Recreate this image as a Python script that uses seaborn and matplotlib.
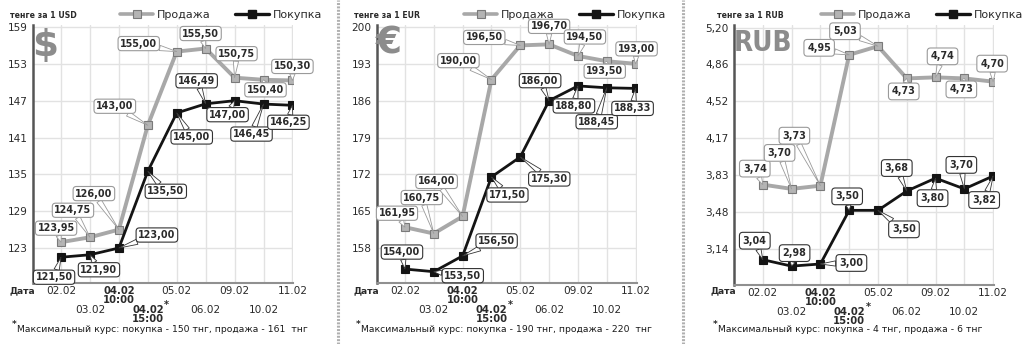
import numpy as np
import matplotlib
matplotlib.use("Agg")
import matplotlib.pyplot as plt
import seaborn as sns
from matplotlib.lines import Line2D

# ---------------- data ----------------
dates = ["02.02", "03.02", "04.02\n10:00", "04.02\n15:00", "05.02",
         "06.02", "09.02", "10.02", "11.02"]

usd_sale = [123.95, 124.75, 126.00, 143.00, 155.00, 155.50, 150.75, 150.40, 150.30]
usd_buy = [121.50, 121.90, 123.00, 135.50, 145.00, 146.49, 147.00, 146.45, 146.25]
eur_sale = [161.95, 160.75, 164.00, 190.00, 196.50, 196.70, 194.50, 193.50, 193.00]
eur_buy = [154.00, 153.50, 156.50, 171.50, 175.30, 186.00, 188.80, 188.45, 188.33]
rub_sale = [3.74, 3.70, 3.73, 4.95, 5.03, 4.73, 4.74, 4.73, 4.70]
rub_buy = [3.04, 2.98, 3.00, 3.50, 3.50, 3.68, 3.80, 3.70, 3.82]

usd_ticks = [123, 129, 135, 141, 147, 153, 159]
eur_ticks = [158, 165, 172, 179, 186, 193, 200]
rub_ticks = [3.14, 3.48, 3.83, 4.17, 4.52, 4.86, 5.20]
rub_ticklabels = ["3,14", "3,48", "3,83", "4,17", "4,52", "4,86", "5,20"]

currencies = ["USD", "EUR", "RUB"]
symbols = ["$", "€", "RUB"]
max_buy = [150, 190, 4]
max_sale = [161, 220, 6]
foot_gap = ["  ", "  ", " "]

legend_labels = ["Продажа", "Покупка"]
date_label = "Дата"

# ---------------- layout (pixel offsets of the value boxes) ----------------
usd_sale_off = [(-5, -14), (-17, -27), (-25, -36), (-33, -19), (-38, -8), (-5, -15), (2, -24), (2, 10), (0, -14)]
usd_buy_off = [(-7, 20), (9, 15), (38, -13), (18, 20), (15, 24), (-9, -23), (-7, 14), (-12, 30), (-4, 17)]
eur_sale_off = [(-8, -14), (-12, -36), (-26, -35), (-33, -19), (-36, -8), (0, -18), (7, -19), (-2, 10), (1, -15)]
eur_buy_off = [(-3, -17), (29, 4), (34, -15), (16, 18), (29, 22), (-9, -20), (-4, 20), (-10, 34), (-3, 20)]
rub_sale_off = [(-8, -16), (-12, -36), (-26, -50), (-30, -7), (-33, -15), (-3, 13), (7, -21), (-3, 11), (-1, -18)]
rub_buy_off = [(-8, -19), (3, -13), (31, -1), (-2, -14), (26, 19), (-10, -23), (-3, 20), (-3, -24), (-9, 24)]

W, H = 1024, 344
sns.set_style("white")
plt.rcParams["font.family"] = ["DejaVu Sans"]

fig = plt.figure(figsize=(W / 100, H / 100), dpi=100)
fig.patch.set_facecolor("white")

SALE_LINE = "#a8a8a8"
SALE_FACE = "#b4b4b4"
SALE_EDGE = "#7a7a7a"
BUY_LINE = "#141414"
TXT = "#2a2a2a"


def ftext(x, y, s, **kw):
    return fig.text(x / W, 1 - y / H, s, **kw)


def fmt(v):
    return f"{v:.2f}".replace(".", ",")


panels = [
    dict(rect=(33, 25, 293, 283), xlim=(-0.97, 8.02), ylim=(117.3, 159.33),
         ticks=usd_ticks, labels=[str(t) for t in usd_ticks],
         sale=usd_sale, buy=usd_buy, so=usd_sale_off, bo=usd_buy_off,
         sym_pos=(45, 46), sym_size=27, pad=0.22),
    dict(rect=(377, 25, 637, 283), xlim=(-0.97, 8.05), ylim=(151.35, 200.38),
         ticks=eur_ticks, labels=[str(t) for t in eur_ticks],
         sale=eur_sale, buy=eur_buy, so=eur_sale_off, bo=eur_buy_off,
         sym_pos=(389, 44), sym_size=27, pad=0.22),
    dict(rect=(734, 25, 994, 285), xlim=(-1.0, 8.03), ylim=(2.804, 5.228),
         ticks=rub_ticks, labels=rub_ticklabels,
         sale=rub_sale, buy=rub_buy, so=rub_sale_off, bo=rub_buy_off,
         sym_pos=(763, 43), sym_size=20, pad=0.35),
]

x = np.arange(len(dates))

for k, p in enumerate(panels):
    l, t, r, b = p["rect"]
    ax = fig.add_axes([l / W, 1 - b / H, (r - l) / W, (b - t) / H])
    ax.set_facecolor("white")

    sns.lineplot(x=x, y=p["sale"], ax=ax, color=SALE_LINE, lw=2.8, marker="s",
                 markersize=5.5, markerfacecolor=SALE_FACE, markeredgecolor=SALE_EDGE,
                 markeredgewidth=0.8, zorder=3)
    sns.lineplot(x=x, y=p["buy"], ax=ax, color=BUY_LINE, lw=2.0, marker="s",
                 markersize=5.5, markerfacecolor=BUY_LINE, markeredgecolor=BUY_LINE,
                 markeredgewidth=0.8, zorder=4)

    ax.set_xlim(*p["xlim"])
    ax.set_ylim(*p["ylim"])
    ax.set_xticks(x)
    ax.set_xticklabels([])
    ax.set_yticks(p["ticks"])
    ax.set_yticklabels(p["labels"], fontsize=7.6, color=TXT)
    ax.tick_params(axis="both", length=0, pad=4)
    ax.grid(True, color="#e2e2e2", lw=1.0, zorder=0)
    ax.set_axisbelow(True)
    for s in ["top", "right"]:
        ax.spines[s].set_visible(False)
    ax.spines["left"].set_color("#555555")
    ax.spines["left"].set_linewidth(1.8)
    ax.spines["bottom"].set_color("#909090")
    ax.spines["bottom"].set_linewidth(1.5)
    ax.set_xlabel("")
    ax.set_ylabel("")

    # value boxes
    for vals, offs, ec in [(p["sale"], p["so"], "#9a9a9a"), (p["buy"], p["bo"], "#333333")]:
        for i, (v, (dx, dy)) in enumerate(zip(vals, offs)):
            ax.annotate(fmt(v), xy=(i, v), xytext=(dx, -dy), textcoords="offset pixels",
                        ha="center", va="center", fontsize=6.9, fontweight="bold", color=TXT,
                        bbox=dict(boxstyle=f"round,pad={p['pad']},rounding_size=0.35",
                                  fc="white", ec=ec, lw=0.8),
                        arrowprops=dict(arrowstyle="wedge,tail_width=0.55,shrink_factor=0.5",
                                        fc="white", ec=ec, lw=0.6, shrinkA=0, shrinkB=0),
                        zorder=6)

    # date labels
    for i, d in enumerate(dates):
        bold = "\n" in d
        row2 = i % 2 == 1
        off = 22 if row2 else 3
        ax.annotate(d, xy=(i, 0), xycoords=("data", "axes fraction"),
                    xytext=(0, -off), textcoords="offset pixels", ha="center", va="top",
                    fontsize=7.2 if bold else 7.6, fontweight="bold" if bold else "normal",
                    color=TXT, linespacing=0.92, annotation_clip=False)
        if i == 3:
            ax.annotate("*", xy=(i, 0), xycoords=("data", "axes fraction"),
                        xytext=(19, -17), textcoords="offset pixels", ha="center", va="top",
                        fontsize=7, fontweight="bold", color=TXT, annotation_clip=False)

    # "Дата"
    ftext(l + 2, 291, date_label, ha="right", va="center", fontsize=6.6,
          fontweight="bold", color=TXT)

    # unit label
    ftext(l - 23 if k < 2 else l - 17, 15, f"тенге за 1 {currencies[k]}", ha="left",
          va="center", fontsize=5.6, fontweight="bold", color=TXT)

    # big symbol
    sx, sy = p["sym_pos"]
    ftext(sx, sy, symbols[k], ha="center", va="center", fontsize=p["sym_size"],
          fontweight="bold", color="#8c8c8c",
          fontstretch="condensed" if k == 2 else "normal")

    # legend
    handles = [
        Line2D([], [], color=SALE_LINE, lw=2.6, marker="s", markersize=5.5,
               markerfacecolor=SALE_FACE, markeredgecolor=SALE_EDGE, markeredgewidth=0.8),
        Line2D([], [], color=BUY_LINE, lw=2.4, marker="s", markersize=5.5,
               markerfacecolor=BUY_LINE, markeredgecolor=BUY_LINE),
    ]
    leg = ax.legend(handles, legend_labels, ncol=2, frameon=False, loc="center left",
                    bbox_to_anchor=((l + 87) / W, 1 - 15 / H), bbox_transform=fig.transFigure,
                    borderaxespad=0, borderpad=0, handlelength=3.0, handletextpad=0.35,
                    columnspacing=2.2, prop={"size": 8})
    for txt in leg.get_texts():
        txt.set_color(TXT)

    # footnote
    fx = l - 21
    ftext(fx, 325, "*", ha="left", va="center", fontsize=6.5, fontweight="bold", color=TXT)
    ftext(fx + 5, 330,
          f"Максимальный курс: покупка - {max_buy[k]} тнг, продажа - {max_sale[k]}{foot_gap[k]}тнг",
          ha="left", va="center", fontsize=6.7, color="#1a1a1a")

# panel separators
for sx in [338, 683]:
    fig.add_artist(Line2D([sx / W, sx / W], [0, 1], transform=fig.transFigure,
                          color="#b0b0b0", lw=2.2, linestyle=(0, (0.65, 0.45))))

fig.savefig("out.png", dpi=100, facecolor="white")
